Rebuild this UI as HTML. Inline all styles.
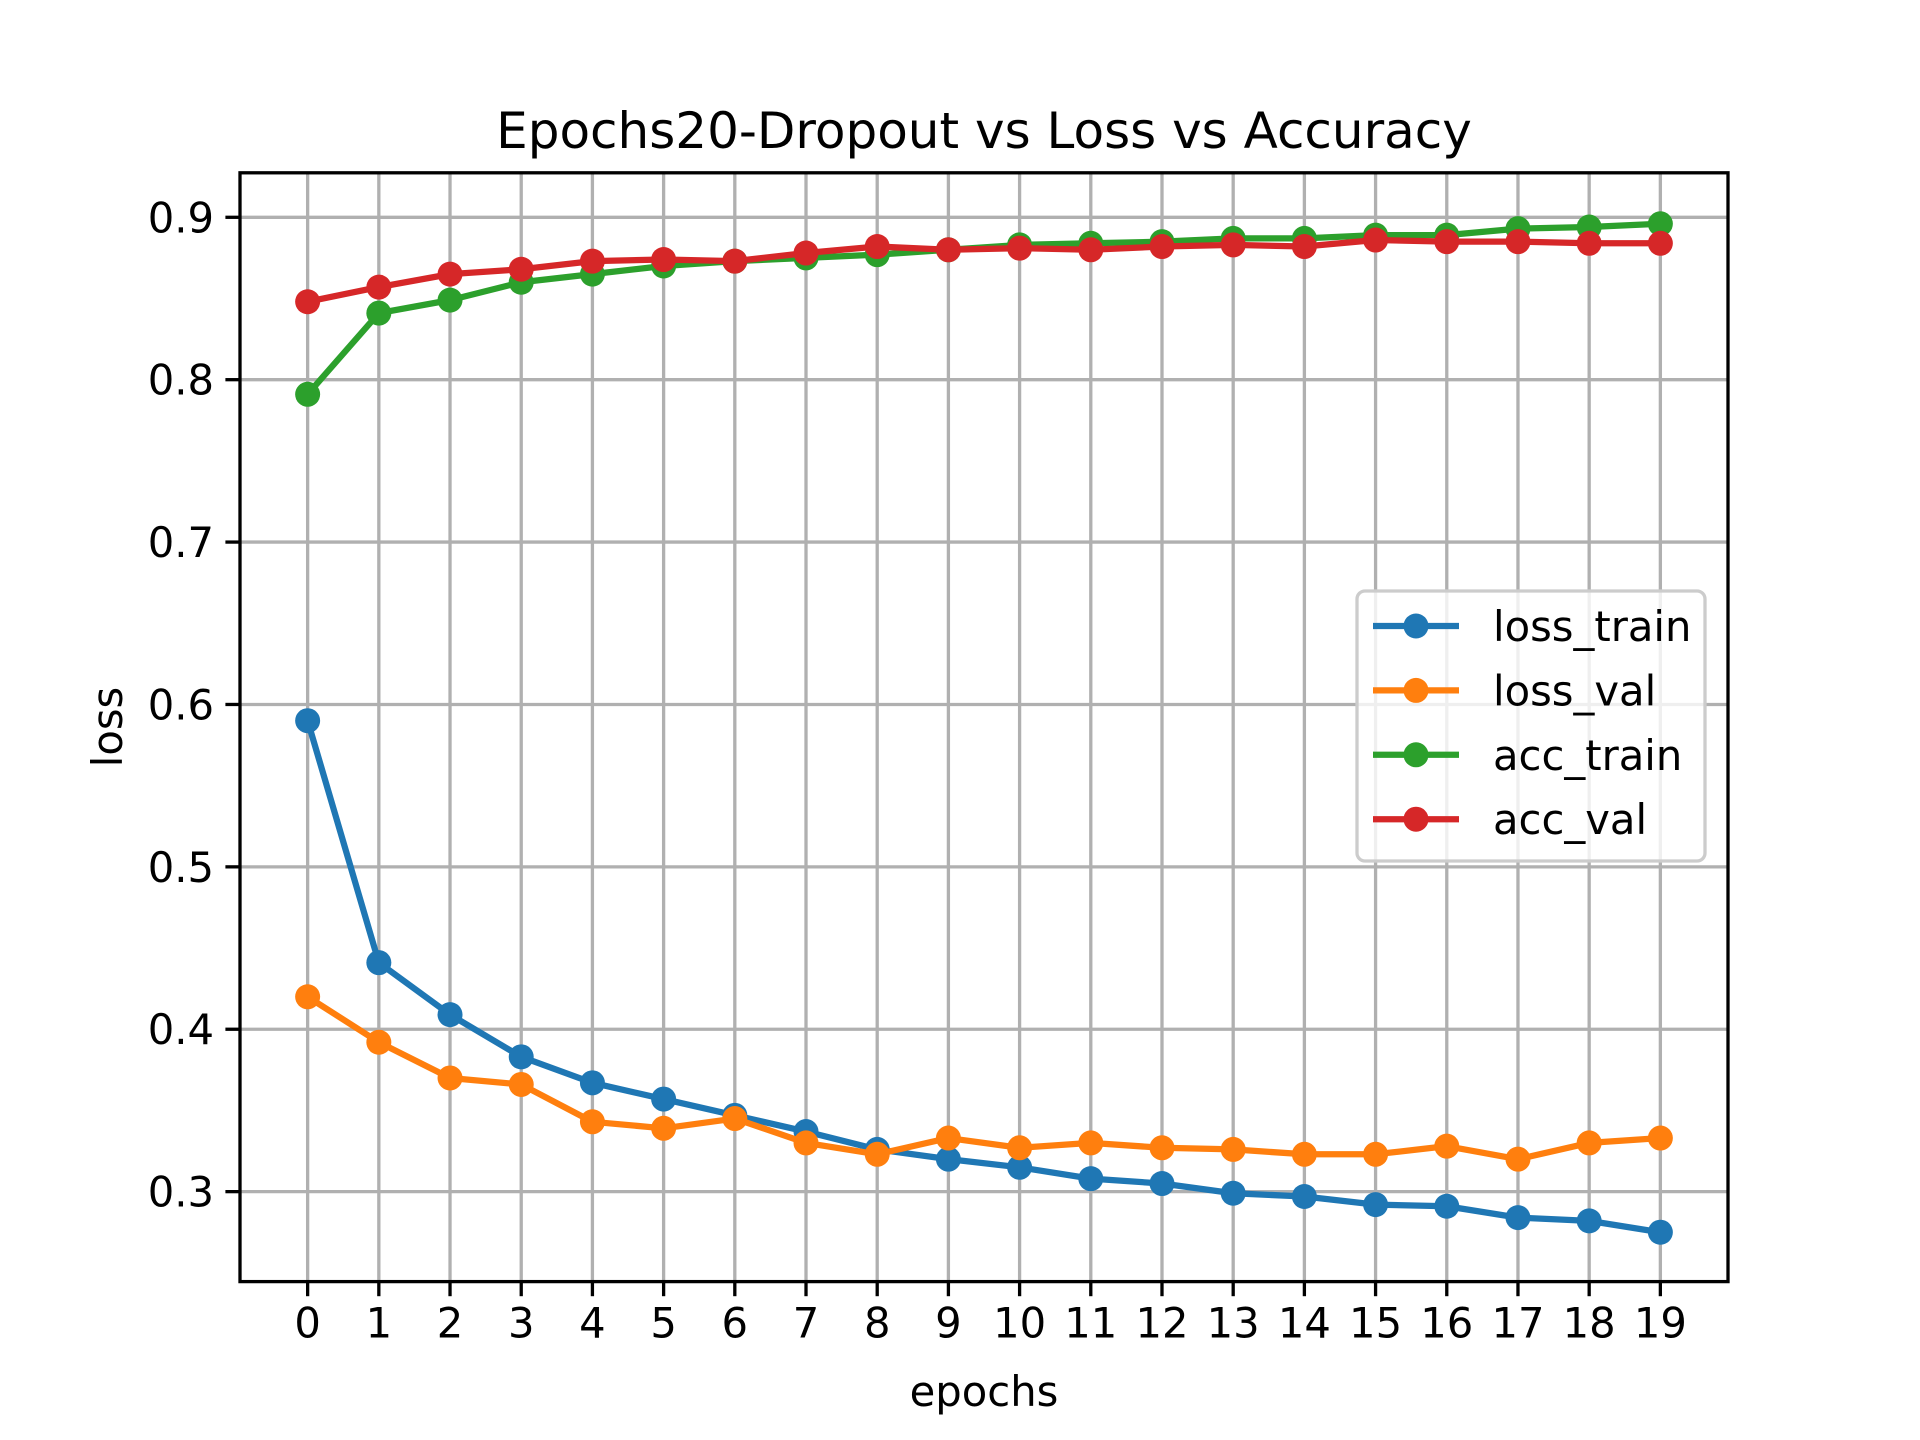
<!DOCTYPE html>
<html><head><meta charset="utf-8"><style>
html,body{margin:0;padding:0;background:#fff;}
svg{display:block;font-family:"DejaVu Sans","Liberation Sans",sans-serif;}
</style></head><body>
<svg id="chart" width="1920" height="1440" viewBox="0 0 1920 1440" xmlns="http://www.w3.org/2000/svg">
<rect width="1920" height="1440" fill="#fff"/>
<g id="grid"></g><g id="series"></g><g id="axes"></g><g id="legend"></g>
</svg>
<script>
const epochs=[0,1,2,3,4,5,6,7,8,9,10,11,12,13,14,15,16,17,18,19];
const lossTrain=[0.590,0.441,0.409,0.383,0.367,0.357,0.347,0.337,0.326,0.320,0.315,0.308,0.305,0.299,0.297,0.292,0.291,0.284,0.282,0.275];
const lossVal=[0.420,0.392,0.370,0.366,0.343,0.339,0.345,0.330,0.323,0.333,0.327,0.330,0.327,0.326,0.323,0.323,0.328,0.320,0.330,0.333];
const accTrain=[0.791,0.841,0.849,0.860,0.865,0.870,0.873,0.875,0.877,0.880,0.883,0.884,0.885,0.887,0.887,0.889,0.889,0.893,0.894,0.896];
const accVal=[0.848,0.857,0.865,0.868,0.873,0.874,0.873,0.878,0.882,0.880,0.881,0.880,0.882,0.883,0.882,0.886,0.885,0.885,0.884,0.884];
const yTicks=[0.3,0.4,0.5,0.6,0.7,0.8,0.9];
const seriesNames=["loss_train","loss_val","acc_train","acc_val"];
const colors=["#1f77b4","#ff7f0e","#2ca02c","#d62728"];
const NS="http://www.w3.org/2000/svg";
const L=240,R=1728,T=172.8,B=1281.6,x0=-0.95,x1=19.95,y0=0.2446,y1=0.9274;
const X=v=>L+(v-x0)/(x1-x0)*(R-L);
const Y=v=>B-(v-y0)/(y1-y0)*(B-T);
function mk(tag,attrs,parent,text){const e=document.createElementNS(NS,tag);for(const k in attrs)e.setAttribute(k,attrs[k]);if(text!==undefined)e.textContent=text;parent.appendChild(e);return e;}
const grid=document.getElementById('grid'),axes=document.getElementById('axes'),ser=document.getElementById('series'),leg=document.getElementById('legend');
epochs.forEach(e=>{
 const g=mk('line',{x1:X(e),x2:X(e),y1:T,y2:B,stroke:'#b0b0b0','stroke-width':3.3},grid);
 
 
 mk('line',{x1:X(e),x2:X(e),y1:B,y2:B+14.6,stroke:'#000','stroke-width':3.3},axes);
 const t=mk('text',{x:X(e),y:B+56,'font-size':41.7,'text-anchor':'middle',fill:'#000'},axes,String(e));
 
 
});
yTicks.forEach(v=>{
 const g=mk('line',{x1:L,x2:R,y1:Y(v),y2:Y(v),stroke:'#b0b0b0','stroke-width':3.3},grid);
 
 
 mk('line',{x1:L-14.6,x2:L,y1:Y(v),y2:Y(v),stroke:'#000','stroke-width':3.3},axes);
 const t=mk('text',{x:L-26,y:Y(v)+15,'font-size':41.7,'text-anchor':'end',fill:'#000'},axes,v.toFixed(1));
 
 
});
const data=[lossTrain,lossVal,accTrain,accVal];
data.forEach((arr,i)=>{
 const p=mk('polyline',{points:arr.map((v,j)=>X(epochs[j])+','+Y(v)).join(' '),fill:'none',stroke:colors[i],'stroke-width':6.25,'stroke-linejoin':'round','stroke-linecap':'square'},ser);
 
 
 arr.forEach((v,j)=>{
  const c=mk('circle',{cx:X(epochs[j]),cy:Y(v),r:12.5,fill:colors[i]},ser);
  
  
 });
});
const frame=mk('rect',{x:L,y:T,width:R-L,height:B-T,fill:'none',stroke:'#000','stroke-width':3.3},axes);


const title=mk('text',{x:(L+R)/2,y:148,'font-size':50,'text-anchor':'middle',fill:'#000'},axes,'Epochs20-Dropout vs Loss vs Accuracy');


const xl=mk('text',{x:(L+R)/2,y:1406,'font-size':41.7,'text-anchor':'middle',fill:'#000'},axes,'epochs');


const yl=mk('text',{x:0,y:0,'font-size':41.7,'text-anchor':'middle',fill:'#000',transform:'translate(122,727) rotate(-90)'},axes,'loss');


const box=mk('rect',{x:1366-9,y:595-4,width:348,height:270,rx:8,fill:'#fff','fill-opacity':0.8,stroke:'#cccccc','stroke-width':3.3},leg);


seriesNames.forEach((n,i)=>{
 const y=626+i*64.4;
 mk('line',{x1:1373,x2:1459,y1:y,y2:y,stroke:colors[i],'stroke-width':6.25},leg);
 mk('circle',{cx:1416,cy:y,r:12.5,fill:colors[i]},leg);
 const t=mk('text',{x:1493,y:y+15,'font-size':41.7,fill:'#000'},leg,n);
 
 
});
</script>
</body></html>
